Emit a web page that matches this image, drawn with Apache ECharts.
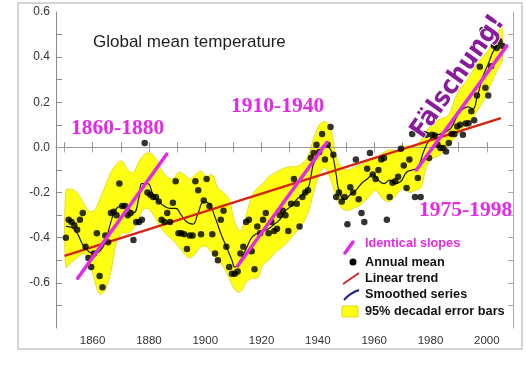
<!DOCTYPE html>
<html><head><meta charset="utf-8">
<script src="https://cdn.jsdelivr.net/npm/echarts@6/dist/echarts.min.js"></script>
<style>html,body{margin:0;padding:0;background:#fff}#c{width:526px;height:384px}</style>
</head><body><div id="c"></div>
<script>
// ---- data ----
const annualStart = 1850;
const annualMean = [
 -0.40,-0.32,-0.33,-0.345,-0.365,-0.32,-0.29,-0.44,-0.49,-0.53,
 -0.47,-0.38,-0.57,-0.62,-0.39,-0.42,-0.29,-0.285,-0.30,-0.16,
 -0.26,-0.26,-0.30,-0.29,-0.41,-0.33,-0.33,-0.32,0.02,-0.20,
 -0.21,-0.22,-0.22,-0.24,-0.32,-0.33,-0.29,-0.33,-0.245,-0.15,
 -0.38,-0.38,-0.385,-0.45,-0.39,-0.39,-0.15,-0.19,-0.385,-0.235,
 -0.14,-0.26,-0.385,-0.47,-0.50,-0.32,-0.28,-0.44,-0.53,-0.56,
 -0.56,-0.55,-0.47,-0.44,-0.33,-0.32,-0.46,-0.54,-0.35,-0.38,
 -0.32,-0.29,-0.38,-0.33,-0.37,-0.36,-0.30,-0.28,-0.30,-0.37,
 -0.25,-0.14,-0.25,-0.35,-0.22,-0.20,-0.19,-0.047,-0.025,0.012,
 -0.02,0.06,-0.054,0.012,0.09,-0.032,-0.22,-0.20,-0.24,-0.22,
 -0.34,-0.176,-0.20,-0.054,-0.23,-0.29,-0.33,-0.094,-0.025,-0.12,
 -0.14,-0.10,-0.054,-0.047,-0.32,-0.22,-0.157,-0.15,-0.13,-0.006,
 -0.08,-0.18,-0.054,0.059,-0.22,-0.135,-0.22,0.059,0.056,-0.047,
 0.056,0.053,0.012,-0.003,-0.003,-0.018,0.02,0.06,0.06,0.093,
 0.10,0.056,0.106,0.107,0.16,0.12,0.23,0.357,0.52,0.264,
 0.23,0.36,0.45,0.44,0.47,0.45
];
const smoothYears = [1850,1852,1854,1856,1858,1860,1862,1864,1866,1868,1870,1872,1874,1876,1877,1879,1881,1883,1885,1887,1889,1891,1893,1895,1897,1899,1901,1903,1905,1907,1909,1910,1912,1914,1916,1918,1920,1922,1924,1926,1928,1930,1932,1934,1936,1937,1938,1940,1942,1944,1945,1946,1947,1949,1951,1953,1955,1957,1959,1961,1963,1965,1967,1969,1971,1973,1975,1977,1979,1981,1983,1985,1987,1989,1991,1993,1994.5,1996,1998,2000,2002,2004];
const smoothVals = [-0.35,-0.355,-0.38,-0.43,-0.46,-0.47,-0.46,-0.42,-0.33,-0.27,-0.26,-0.27,-0.29,-0.22,-0.16,-0.16,-0.21,-0.24,-0.26,-0.27,-0.27,-0.30,-0.33,-0.34,-0.29,-0.24,-0.25,-0.31,-0.38,-0.44,-0.50,-0.53,-0.50,-0.45,-0.40,-0.38,-0.37,-0.36,-0.34,-0.32,-0.28,-0.26,-0.23,-0.21,-0.18,-0.13,-0.07,-0.02,0.01,-0.01,-0.05,-0.12,-0.19,-0.23,-0.21,-0.19,-0.16,-0.14,-0.12,-0.145,-0.16,-0.145,-0.16,-0.15,-0.11,-0.10,-0.09,-0.02,0.03,0.05,0.06,0.07,0.09,0.14,0.17,0.18,0.17,0.22,0.31,0.37,0.43,0.46];
const bandYears = [1850,1852,1854,1856,1858,1860,1862,1864,1866,1868,1870,1872,1874,1876,1878,1880,1882,1884,1886,1888,1890,1892,1894,1896,1898,1900,1902,1904,1906,1908,1910,1912,1914,1916,1918,1920,1922,1924,1926,1928,1930,1932,1934,1936,1938,1940,1942,1944,1946,1948,1950,1952,1954,1956,1958,1960,1962,1964,1966,1968,1970,1972,1974,1976,1978,1980,1982,1984,1986,1988,1990,1992,1994,1996,1998,2000,2002,2004,2005];
const bandLow = [-0.53,-0.51,-0.49,-0.47,-0.49,-0.58,-0.65,-0.63,-0.55,-0.42,-0.38,-0.38,-0.36,-0.31,-0.27,-0.28,-0.32,-0.36,-0.39,-0.41,-0.44,-0.47,-0.49,-0.47,-0.44,-0.44,-0.47,-0.50,-0.53,-0.58,-0.63,-0.64,-0.60,-0.58,-0.58,-0.52,-0.50,-0.47,-0.45,-0.43,-0.40,-0.37,-0.34,-0.29,-0.20,-0.12,-0.09,-0.14,-0.22,-0.27,-0.28,-0.27,-0.26,-0.24,-0.215,-0.19,-0.22,-0.24,-0.23,-0.20,-0.18,-0.20,-0.19,-0.18,-0.09,-0.05,-0.04,-0.02,0.01,0.04,0.07,0.10,0.12,0.16,0.20,0.25,0.31,0.36,0.38];
const bandHigh = [-0.19,-0.185,-0.20,-0.24,-0.28,-0.28,-0.23,-0.17,-0.11,-0.075,-0.06,-0.10,-0.11,-0.06,-0.03,-0.025,-0.05,-0.10,-0.13,-0.14,-0.11,-0.12,-0.14,-0.12,-0.105,-0.13,-0.12,-0.18,-0.20,-0.23,-0.33,-0.37,-0.30,-0.22,-0.18,-0.16,-0.13,-0.115,-0.10,-0.09,-0.085,-0.085,-0.07,-0.04,0.04,0.10,0.115,0.085,-0.04,-0.09,-0.10,-0.09,-0.08,-0.07,-0.05,-0.045,-0.03,-0.015,-0.01,-0.02,0.005,0.005,0.005,0.03,0.07,0.10,0.12,0.13,0.145,0.21,0.26,0.29,0.33,0.37,0.40,0.43,0.47,0.52,0.54];
const trendYears = [1850, 2005];
const trendVals = [-0.48, 0.13];
const slopeYears = [[1854.7, 1886.3], [1911.5, 1943.2], [1975.0, 2007.1]];
const slopeVals = [[-0.58, -0.03], [-0.525, 0.022], [-0.10, 0.45]];
const xTickValues = [1850,1860,1870,1880,1890,1900,1910,1920,1930,1940,1950,1960,1970,1980,1990,2000];
const xLabelValues = [1860,1880,1900,1920,1940,1960,1980,2000];
const yTickValues = [-0.7,-0.6,-0.5,-0.4,-0.3,-0.2,-0.1,0,0.1,0.2,0.3,0.4,0.5];
const yLabelValues = [-0.6,-0.4,-0.2,0,0.2,0.4,0.6];
const periodLabels = ['1860-1880', '1910-1940', '1975-1998'];
const titleText = 'Global mean temperature';
const stampText = 'Fälschung!';
const legendLabels = ['Identical slopes','Annual mean','Linear trend','Smoothed series','95% decadal error bars'];

// ---- build ----
const MAG = '#e42ae4';
const YEL = '#ffff14';
const annualData = annualMean.map((v,i)=>[annualStart + i + 0.5, v]);
const smoothData = smoothYears.map((y,i)=>[y + 0.5, smoothVals[i]]);
const trendData = trendYears.map((y,i)=>[y, trendVals[i]]);

const chart = echarts.init(document.getElementById('c'), null, {renderer:'canvas'});
const axisCol = '#8c8c8c';
const slopeSeries = slopeYears.map((ys,k)=>({
  type:'line', data: ys.map((y,i)=>[y, slopeVals[k][i]]), symbol:'none', silent:true,
  lineStyle:{color:MAG, width:3.5, cap:'round'}, z:8
}));
const legFont = 'bold 12.7px "Liberation Sans", Arial, sans-serif';
const legX = 365;
const bandSeries = {
  type:'custom', coordinateSystem:'cartesian2d', silent:true, z:1, clip:true,
  data:[[bandYears[0], bandLow[0]]],
  renderItem:(params, api)=>{
    const top = bandYears.map((y,i)=>api.coord([y + 0.5, bandHigh[i]]));
    const bot = bandYears.map((y,i)=>api.coord([y + 0.5, bandLow[i]])).reverse();
    return {type:'group', children:[
      {type:'polygon', shape:{points: top.concat(bot), smooth:0.35}, style:{fill:YEL, stroke:'#dcd418', lineWidth:0.8}}
    ]};
  }
};
chart.setOption({
  animation:false,
  backgroundColor:'#fff',
  grid:{left:56, right:13, top:12, bottom:56},
  xAxis:[
    {type:'value', min:1847, max:2009.3, position:'bottom',
     axisLine:{show:true, lineStyle:{color:axisCol, width:1}},
     axisTick:{show:true, inside:true, length:5, customValues:xTickValues, lineStyle:{color:axisCol}},
     axisLabel:{customValues:xLabelValues, color:'#333', fontSize:11.5, margin:7, fontFamily:'Liberation Sans, Arial, sans-serif',
       formatter:v=>String(v)},
     splitLine:{show:false}},
    {type:'value', min:1847, max:2009.3, position:'top',
     axisLine:{show:true, lineStyle:{color:'#bbb', width:1}},
     axisTick:{show:true, inside:true, length:5, customValues:xTickValues, lineStyle:{color:'#aaa'}},
     axisLabel:{show:false}, splitLine:{show:false}}
  ],
  yAxis:[
    {type:'value', min:-0.8, max:0.6, position:'left',
     axisLine:{show:true, lineStyle:{color:axisCol, width:1}},
     axisTick:{show:true, inside:true, length:6, customValues:yTickValues, lineStyle:{color:axisCol}},
     axisLabel:{customValues:yLabelValues, color:'#333', fontSize:12, margin:6, fontFamily:'Liberation Sans, Arial, sans-serif',
       formatter:v=>v.toFixed(1)},
     splitLine:{show:false}},
    {type:'value', min:-0.8, max:0.6, position:'right',
     axisLine:{show:true, lineStyle:{color:'#aaa', width:1}},
     axisTick:{show:true, inside:true, length:5, customValues:yTickValues, lineStyle:{color:'#aaa'}},
     axisLabel:{show:false}, splitLine:{show:false}}
  ],
  series:[
    bandSeries,
    {type:'line', name:'Linear trend', data:trendData, symbol:'none', silent:true,
     lineStyle:{color:'#d62410', width:2.4}, z:4,
     markLine:{silent:true, symbol:'none', label:{show:false}, lineStyle:{color:'#9a9a9a', width:1, type:'solid'},
       data:[{yAxis:0}], z:2}},
    {type:'line', name:'Smoothed series', data:smoothData, symbol:'none', smooth:0.5, silent:true,
     lineStyle:{color:'#1c1c1c', width:1.2}, z:3},
    {type:'scatter', name:'Annual mean', data:annualData, symbol:'circle', symbolSize:6.5,
     itemStyle:{color:'#000'}, z:5},
    ...slopeSeries
  ],
  graphic:[
    {type:'rect', shape:{x:18, y:3, width:504, height:346}, style:{fill:'none', stroke:'#c8c8c8', lineWidth:1.5}, silent:true, z:-1},
    {type:'text', x:93, y:42, style:{text:titleText, font:'17px "Liberation Sans", Arial, sans-serif', fill:'#1e1e1e', verticalAlign:'middle'}},
    {type:'text', x:71, y:128, style:{text:periodLabels[0], font:'bold 21.5px "Liberation Serif", serif', fill:MAG, verticalAlign:'middle'}, z:20},
    {type:'text', x:231, y:106, style:{text:periodLabels[1], font:'bold 21.5px "Liberation Serif", serif', fill:MAG, verticalAlign:'middle'}, z:20},
    {type:'text', x:419, y:210, style:{text:periodLabels[2], font:'bold 21.5px "Liberation Serif", serif', fill:MAG, verticalAlign:'middle'}, z:20},
    {type:'text', x:458, y:77, rotation:55*Math.PI/180, z:30,
     style:{text:stampText, font:'bold 26px "Liberation Sans Narrow", "DejaVu Sans Condensed", sans-serif', fill:'#8a1c9c',
       stroke:'#ffffff', lineWidth:1.5, align:'center', verticalAlign:'middle',
       shadowColor:'rgba(90,90,90,0.7)', shadowOffsetX:2, shadowOffsetY:1.5, shadowBlur:1}},
    // legend
    {type:'line', shape:{x1:345, y1:253, x2:353, y2:242}, style:{stroke:MAG, lineWidth:3.5, lineCap:'round'}, z:20},
    {type:'text', x:legX, y:243, style:{text:legendLabels[0], font:legFont, fill:MAG, verticalAlign:'middle'}, z:20},
    {type:'circle', shape:{cx:353, cy:262, r:3.5}, style:{fill:'#000'}, z:20},
    {type:'text', x:legX, y:262, style:{text:legendLabels[1], font:legFont, fill:'#111', verticalAlign:'middle'}, z:20},
    {type:'line', shape:{x1:343, y1:284, x2:359, y2:273}, style:{stroke:'#c8262a', lineWidth:2}, z:20},
    {type:'text', x:legX, y:278, style:{text:legendLabels[2], font:legFont, fill:'#111', verticalAlign:'middle'}, z:20},
    {type:'bezierCurve', shape:{x1:344, y1:300, cpx1:350, cpy1:293, x2:359, y2:290}, style:{stroke:'#1e1e8c', lineWidth:2, fill:'none'}, z:20},
    {type:'text', x:legX, y:294, style:{text:legendLabels[3], font:legFont, fill:'#111', verticalAlign:'middle'}, z:20},
    {type:'rect', shape:{x:342, y:306, width:16, height:11}, style:{fill:YEL, stroke:'#e0d820', lineWidth:1}, z:20},
    {type:'text', x:legX, y:311, style:{text:legendLabels[4], font:legFont, fill:'#111', verticalAlign:'middle'}, z:20}
  ]
});
</script>
</body></html>
